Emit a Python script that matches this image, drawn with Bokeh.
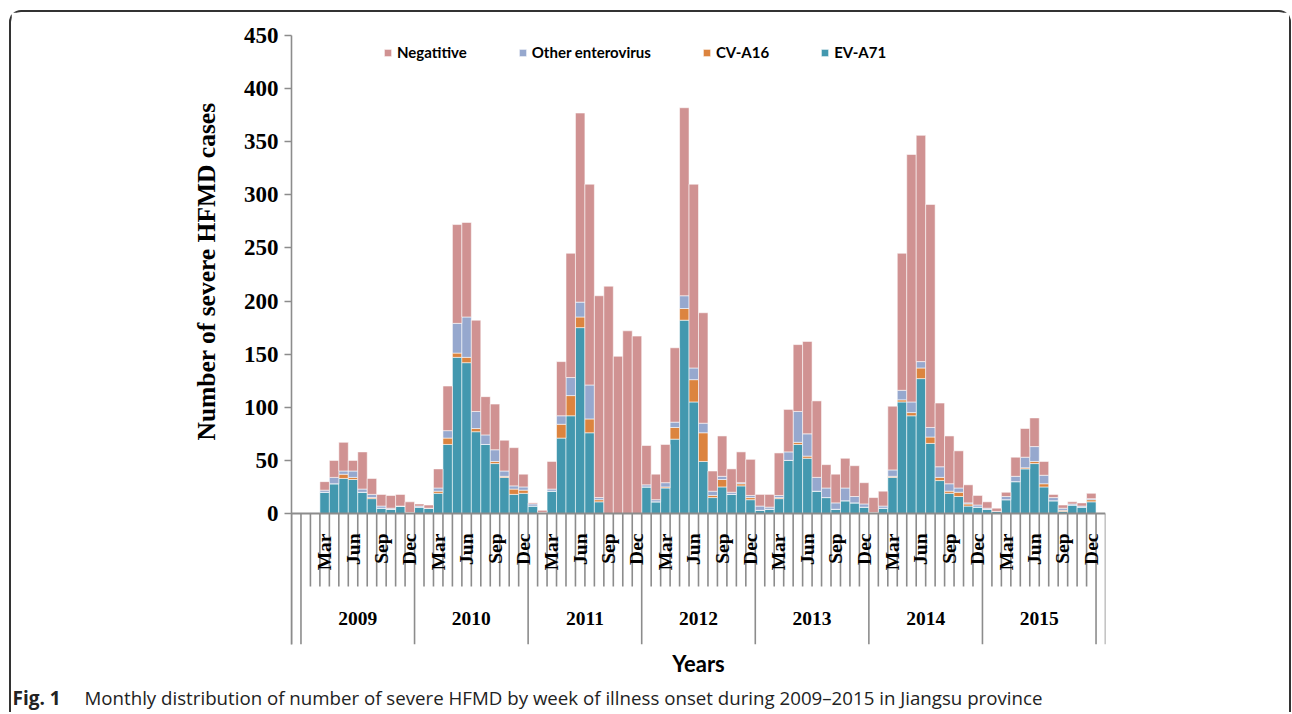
import numpy as np
from bokeh.plotting import figure
from bokeh.layouts import column
from bokeh.models import ColumnDataSource, Range1d, FixedTicker, Legend, LegendItem, Title, Grid
from bokeh.core.properties import value
from bokeh.embed import file_html
from bokeh.resources import INLINE

# ---------------- data ----------------
years = ["2009", "2010", "2011", "2012", "2013", "2014", "2015"]
month_labels = ["", "", "Mar", "", "", "Jun", "", "", "Sep", "", "", "Dec"]
series_names = ["EV-A71", "CV-A16", "Other enterovirus", "Negatitive"]

ev71 = [0, 0, 20, 28, 33, 32, 20, 14, 5, 4, 7, 1,
        6, 5, 19, 65, 147, 142, 77, 65, 47, 34, 18, 19,
        7, 1, 21, 71, 92, 175, 76, 11, 0, 0, 0, 0,
        25, 11, 24, 70, 182, 105, 49, 15, 25, 18, 26, 13,
        3, 4, 14, 50, 65, 52, 21, 15, 4, 12, 10, 6,
        1, 5, 34, 105, 92, 127, 66, 31, 19, 16, 7, 6,
        4, 2, 13, 30, 42, 47, 25, 12, 2, 8, 6, 11]
cva16 = [0, 0, 0, 0, 4, 2, 0, 1, 0, 0, 0, 0,
         0, 0, 2, 6, 4, 5, 3, 0, 2, 1, 5, 3,
         0, 0, 0, 13, 19, 10, 13, 2, 0, 0, 0, 0,
         0, 0, 1, 11, 11, 21, 27, 2, 7, 0, 2, 2,
         0, 0, 1, 0, 2, 2, 0, 0, 0, 0, 0, 0,
         0, 0, 1, 2, 3, 10, 6, 3, 2, 4, 2, 0,
         0, 0, 0, 0, 1, 2, 3, 0, 1, 0, 0, 2]
other = [0, 1, 2, 6, 3, 6, 3, 3, 2, 1, 0, 0,
         1, 0, 3, 7, 28, 38, 16, 9, 11, 5, 3, 3,
         2, 0, 2, 8, 17, 14, 32, 2, 0, 0, 0, 0,
         2, 2, 4, 5, 12, 11, 9, 4, 3, 2, 1, 2,
         4, 2, 2, 8, 29, 21, 13, 9, 6, 12, 6, 3,
         0, 2, 6, 9, 10, 6, 9, 10, 7, 4, 1, 2,
         1, 0, 3, 5, 10, 14, 8, 3, 2, 1, 1, 1]
negative = [0, 0, 8, 16, 27, 10, 35, 15, 11, 12, 11, 10,
            2, 3, 18, 42, 93, 89, 86, 36, 43, 29, 36, 12,
            1, 2, 26, 51, 117, 178, 189, 190, 214, 148, 172, 167,
            37, 24, 36, 70, 177, 173, 104, 19, 38, 22, 29, 34,
            11, 12, 40, 40, 63, 87, 72, 22, 27, 28, 29, 20,
            14, 14, 60, 129, 233, 213, 210, 60, 45, 35, 17, 9,
            6, 3, 4, 18, 27, 27, 13, 3, 3, 2, 3, 5]
y_ticks = [0, 50, 100, 150, 200, 250, 300, 350, 400, 450]

y_title = "Number of severe HFMD cases"
x_title = "Years"
caption_bold = "Fig. 1"
caption_text = ("Monthly distribution of number of severe HFMD by week of illness onset "
                "during 2009\u20132015 in Jiangsu province")

colors = ["#4398AF", "#DC843F", "#96A8CE", "#D09292"]
AXIS_GREY = "#8c8c8c"

# ---------------- geometry ----------------
n = len(ev71)
n_slots = n + 2                      # one empty category on each side
W = 1278
H1, H2 = 668, 32
LEFT, RIGHT, TOP = 280, 184, 23
FRAME_W = W - LEFT - RIGHT
FRAME_H = 609
BOTTOM = H1 - TOP - FRAME_H
Y_MAX = 450
PLOT_H = 478                         # pixels from 0 to 450
ppu_y = PLOT_H / Y_MAX
y_bottom = -(FRAME_H - PLOT_H) / ppu_y

def dy(px):   # pixels below the zero line -> data units
    return -px / ppu_y

x = [i + 1.5 for i in range(n)]
src = ColumnDataSource(dict(x=x, **{"EV-A71": ev71, "CV-A16": cva16,
                                     "Other enterovirus": other, "Negatitive": negative}))

p = figure(width=W, height=H1, x_range=Range1d(0, n_slots), y_range=Range1d(y_bottom, Y_MAX),
           output_backend="svg", toolbar_location=None,
           min_border_left=LEFT, min_border_right=RIGHT, min_border_top=TOP, min_border_bottom=BOTTOM)
p.outline_line_color = None
p.xgrid.visible = False
p.ygrid.visible = False
p.frame_align = False

rs = p.vbar_stack(series_names, x="x", width=1.0, color=colors, source=src,
                  line_color="white", line_alpha=0.55, line_width=1)

# category axis decorations (month and year separators)
year_bounds = {0, n_slots} | {1 + 12 * j for j in range(len(years) + 1)}
sep_x = list(range(n_slots + 1))
sep_y1 = [y_bottom if k in year_bounds else dy(73) for k in sep_x]
p.segment(x0=sep_x, y0=[0] * len(sep_x), x1=sep_x, y1=sep_y1,
          line_color=AXIS_GREY, line_width=1.6)
p.segment(x0=[0], y0=[0], x1=[n_slots], y1=[0], line_color=AXIS_GREY, line_width=2)

mx = [x[i] for i in range(n) if month_labels[i % 12]]
mt = [month_labels[i % 12] for i in range(n) if month_labels[i % 12]]
p.text(x=mx, y=[dy(20)] * len(mx), text=mt, angle=np.pi / 2,
       text_align="right", text_baseline="middle",
       text_font=value("Liberation Serif"), text_font_style="bold",
       text_font_size="19.5px", text_color="black")

yx = [1 + 12 * j + 6 for j in range(len(years))]
p.text(x=yx, y=[dy(105)] * len(years), text=years,
       text_align="center", text_baseline="middle",
       text_font=value("Liberation Serif"), text_font_style="bold",
       text_font_size="19.5px", text_color="black")

# y axis
ya = p.yaxis[0]
ya.ticker = FixedTicker(ticks=y_ticks)
ya.axis_line_color = AXIS_GREY
ya.axis_line_width = 1.6
ya.major_tick_line_color = AXIS_GREY
ya.major_tick_line_width = 1.6
ya.major_tick_out = 7
ya.major_tick_in = 0
ya.minor_tick_line_color = None
ya.major_label_standoff = 6
ya.major_label_text_font = "Liberation Serif"
ya.major_label_text_font_style = "bold"
ya.major_label_text_font_size = "23px"
ya.major_label_text_color = "black"

p.add_layout(Title(text=y_title, align="left", offset=204, standoff=40,
                   text_font="Liberation Serif", text_font_style="bold",
                   text_font_size="25.5px", text_color="black"), "left")

# x axis: only the "Years" title
xa = p.xaxis[0]
xa.ticker = FixedTicker(ticks=[])
xa.axis_line_color = None
xa.major_tick_line_color = None
xa.minor_tick_line_color = None
xa.axis_label = x_title
xa.axis_label_text_font = "Lato"
xa.axis_label_text_font_style = "bold"
xa.axis_label_text_font_size = "22px"
xa.axis_label_text_color = "black"
xa.axis_label_standoff = 5

# legend
items = [LegendItem(label=name, renderers=[r]) for name, r in zip(series_names, rs)][::-1]
legend = Legend(items=items, orientation="horizontal", location=(92, FRAME_H - 8 - 18),
                spacing=51, padding=0, margin=0, glyph_width=9, glyph_height=9,
                label_standoff=5, label_height=18, label_text_font="Lato",
                label_text_font_style="bold", label_text_font_size="15px",
                label_text_color="black", border_line_color=None, background_fill_alpha=0)
p.add_layout(legend)

# caption strip
c = figure(width=W, height=H2, x_range=Range1d(0, W), y_range=Range1d(0, H2),
           output_backend="svg", toolbar_location=None, min_border=0,
           x_axis_location=None, y_axis_location=None)
c.outline_line_color = None
c.frame_align = False
for g in c.select(type=Grid):
    g.visible = False
c.text(x=[1], y=[15], text=[caption_bold], text_align="left", text_baseline="alphabetic",
       text_font=value("Open Sans"), text_font_style="bold", text_font_size="19px",
       text_color="#222222")
c.text(x=[73], y=[15], text=[caption_text], text_align="left", text_baseline="alphabetic",
       text_font=value("Open Sans"), text_font_style="normal", text_font_size="18.7px",
       text_color="#222222")

layout = column(p, c, spacing=0)
layout.styles = {"border": "2px solid #333333", "border-bottom": "none",
                 "border-radius": "12px 12px 0 0", "margin-left": "9px", "margin-top": "10px"}

open("out.html", "w").write(file_html(layout, INLINE))
